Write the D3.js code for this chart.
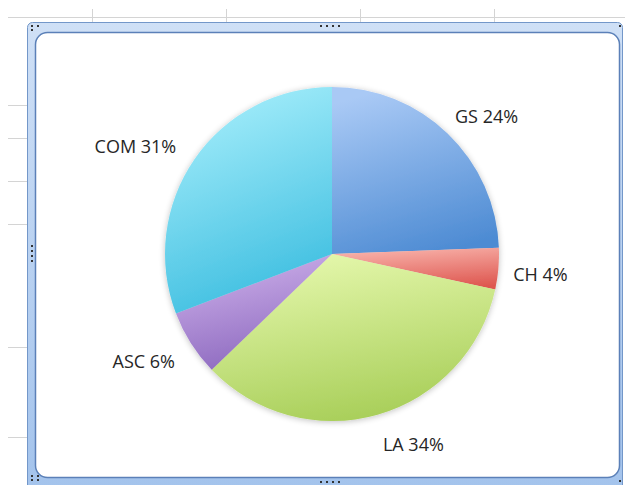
<!DOCTYPE html>
<html>
<head>
<meta charset="utf-8">
<script src="https://cdnjs.cloudflare.com/ajax/libs/d3/7.8.5/d3.min.js"></script>
<style>
  body { margin: 0; background: #fff; }
  .lbl { font-family: "Open Sans", sans-serif; font-size: 18px; fill: #262626; }
</style>
</head>
<body>
<div id="chart"></div>
<script>
// data (clockwise from 12 o'clock)
var categories = ["GS", "CH", "LA", "ASC", "COM"];
var values = [24.4, 4.0, 34.4, 6.4, 30.8];
var lightColors = ["#a9c9f5", "#f8b2aa", "#e4f7ab", "#cdb0ea", "#a6eefb"];
var darkColors  = ["#4d8bd3", "#de5750", "#a6cd56", "#8a66bd", "#39bcdf"];

var W = 625, H = 485;
var cx = 332, cy = 254, R = 167;

//small horizontal nudges so labels sit where Excel put them
var labelNudge = [3, -5, 22, -4, -9];

var svg = d3.select("#chart").append("svg")
  .attr("width", W).attr("height", H);

var defs = svg.append("defs");

//background sheet gridlines
var grid = svg.append("g").attr("stroke", "#d4d4d4").attr("stroke-width", 1);
grid.append("line").attr("x1", 8).attr("x2", W).attr("y1", 17.5).attr("y2", 17.5);
[92, 226, 360, 494].forEach(function(x) {
  grid.append("line").attr("x1", x + 0.5).attr("x2", x + 0.5).attr("y1", 9).attr("y2", 32);
  grid.append("line").attr("x1", x + 0.5).attr("x2", x + 0.5).attr("y1", 478).attr("y2", H);
});
[105, 138, 181, 224, 347, 437].forEach(function(y) {
  grid.append("line").attr("x1", 8).attr("x2", 28).attr("y1", y + 0.5).attr("y2", y + 0.5);
});

//selection frame
var fg = defs.append("linearGradient").attr("id", "frameGrad")
  .attr("x1", 0).attr("y1", 0).attr("x2", 0).attr("y2", 1);
fg.append("stop").attr("offset", "0%").attr("stop-color", "#cfe0f6");
fg.append("stop").attr("offset", "100%").attr("stop-color", "#a3c3ec");

svg.append("rect")
  .attr("x", 27.5).attr("y", 22.5).attr("width", 595).attr("height", 470)
  .attr("rx", 5)
  .attr("fill", "url(#frameGrad)")
  .attr("stroke", "#7397c9").attr("stroke-width", 1);

svg.append("rect")
  .attr("x", 35.5).attr("y", 32.5).attr("width", 584).attr("height", 445)
  .attr("rx", 12)
  .attr("fill", "#fff")
  .attr("stroke", "#5b80b8").attr("stroke-width", 1.5);

//little grip dots on the frame
function grip(x, y, n, vertical) {
  for (var i = 0; i < n; i++) {
    svg.append("rect")
      .attr("x", vertical ? x : x + i * 6).attr("y", vertical ? y + i * 5 : y)
      .attr("width", 2).attr("height", 2).attr("fill", "#333");
  }
}
grip(320, 25, 4, false);
grip(320, 481, 4, false);
grip(31, 245, 4, true);
grip(31, 25, 2, false); grip(31, 29, 1, false);
grip(31, 475, 2, false); grip(31, 479, 2, false);
grip(619, 25, 1, false);
grip(619, 480, 1, false);

//pie
var pie = d3.pie().sort(null).value(function(d) { return d.value; });
var arc = d3.arc().innerRadius(0).outerRadius(R);

var data = categories.map(function(c, i) { return { name: c, value: values[i], i: i }; });
var arcs = pie(data);

categories.forEach(function(c, i) {
  var g = defs.append("linearGradient").attr("id", "grad" + i)
    .attr("x1", 0.35).attr("y1", 0).attr("x2", 0.65).attr("y2", 1);
  g.append("stop").attr("offset", "0%").attr("stop-color", lightColors[i]);
  g.append("stop").attr("offset", "100%").attr("stop-color", darkColors[i]);
});

var sh = defs.append("filter").attr("id", "shadow")
  .attr("x", "-10%").attr("y", "-10%").attr("width", "120%").attr("height", "120%");
sh.append("feGaussianBlur").attr("in", "SourceAlpha").attr("stdDeviation", 3);
sh.append("feOffset").attr("dy", 1).attr("result", "b");
sh.append("feComponentTransfer").append("feFuncA").attr("type", "linear").attr("slope", 0.25);
var m = sh.append("feMerge");
m.append("feMergeNode");
m.append("feMergeNode").attr("in", "SourceGraphic");

var pg = svg.append("g").attr("transform", "translate(" + cx + "," + cy + ")");

pg.append("g").attr("filter", "url(#shadow)")
  .selectAll("path").data(arcs).enter().append("path")
  .attr("d", arc)
  .attr("fill", function(d) { return "url(#grad" + d.data.i + ")"; });

//labels outside end
var gap = 20;
var fmt = function(v) { return Math.round(v) + "%"; };
pg.selectAll("text").data(arcs).enter().append("text")
  .attr("class", "lbl")
  .attr("text-anchor", "middle")
  .attr("dy", "0.55em")
  .text(function(d) { return d.data.name + " " + fmt(d.data.value); })
  .each(function(d) {
    var a = (d.startAngle + d.endAngle) / 2;
    var w = this.getComputedTextLength(), h = 16;
    var s = Math.sin(a), c = Math.cos(a);
    var x = (R + gap) * s + (w / 2) * s + labelNudge[d.data.i];
    var y = -(R + gap) * c - (h / 2) * c;
    d3.select(this).attr("x", x).attr("y", y);
  });
</script>
</body>
</html>
